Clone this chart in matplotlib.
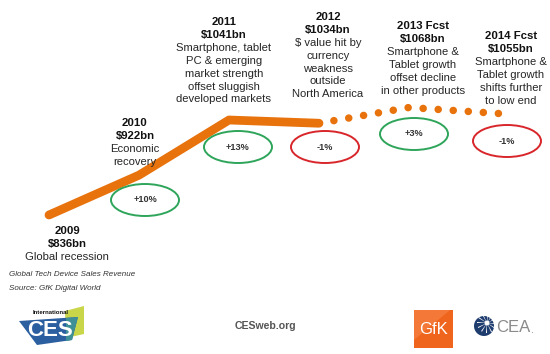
import matplotlib
matplotlib.use('Agg')
import matplotlib.pyplot as plt
from matplotlib.patches import Ellipse, Polygon, Rectangle, Circle, Wedge

# ---------------- data ----------------
years = [2009, 2010, 2011, 2012, 2013, 2014]
revenue = [836, 922, 1041, 1034, 1068, 1055]
n_actual = 4  # 2009-2012 actual (solid), rest forecast (dotted)
year_labels = ['2009', '2010', '2011', '2012', '2013 Fcst', '2014 Fcst']
value_labels = ['$836bn', '$922bn', '$1041bn', '$1034bn', '$1068bn', '$1055bn']
notes = [
    ['Global recession'],
    ['Economic', 'recovery'],
    ['Smartphone, tablet', 'PC & emerging', 'market strength', 'offset sluggish', 'developed markets'],
    ['$ value hit by', 'currency', 'weakness', 'outside', 'North America'],
    ['Smartphone &', 'Tablet growth', 'offset decline', 'in other products'],
    ['Smartphone &', 'Tablet growth', 'shifts further', 'to low end'],
]
growth_labels = ['+10%', '+13%', '-1%', '+3%', '-1%']
footnotes = ['Global Tech Device Sales Revenue', 'Source: GfK Digital World']

# ---------------- layout ----------------
W, H = 550, 354
fig = plt.figure(figsize=(W / 100, H / 100), dpi=100)
fig.patch.set_facecolor('white')

ORANGE = '#E8720C'
GREEN = '#2EA55A'
RED = '#D8262B'

# data axes mapped so 2009 -> x=49px, step 90px; 836 -> y=215px, 1041 -> y=120px
px0, step = 49, 90
k = (215 - 120) / (1041 - 836)
ax = fig.add_axes([0, 0, 1, 1])
ax.set_xlim(2009 - px0 / step, 2009 + (W - px0) / step)
ax.set_ylim(836 - (H - 215) / k, 836 + 215 / k)
ax.axis('off')

ax.plot(years[:n_actual], revenue[:n_actual], color=ORANGE, lw=6.3,
        solid_capstyle='round', solid_joinstyle='round', zorder=3)
ax.plot(years[n_actual - 1:], revenue[n_actual - 1:], color=ORANGE, lw=5.4,
        linestyle=(0, (0.01, 2.0)), dash_capstyle='round', zorder=3)

# overlay axes in pixel coordinates for annotations
ov = fig.add_axes([0, 0, 1, 1], zorder=2)
ov.set_xlim(0, W)
ov.set_ylim(H, 0)
ov.axis('off')
ov.patch.set_alpha(0)

FONT = 'Liberation Sans'
LS = 12.9  # line spacing px

# label blocks: (center x, y of first line)
blocks = [(67, 231), (135, 123), (224, 22), (328, 17), (423, 26), (511, 36)]
for (cx, y0), yl, vl, nl in zip(blocks, year_labels, value_labels, notes):
    ov.text(cx, y0, yl, ha='center', va='center', fontsize=8.2, fontweight='bold',
            family=FONT, color='#111111')
    ov.text(cx, y0 + LS, vl, ha='center', va='center', fontsize=8.2, fontweight='bold',
            family=FONT, color='#111111')
    for i, line in enumerate(nl):
        ov.text(cx, y0 + LS * (i + 2), line, ha='center', va='center', fontsize=8.1,
                family=FONT, color='#262626')

# growth ellipses
ell_pos = [(145, 200), (238, 147), (325, 147), (414, 134), (507, 141)]
for (ex, ey), g in zip(ell_pos, growth_labels):
    col = GREEN if g.startswith('+') else RED
    ov.add_patch(Ellipse((ex, ey), 68, 32, fill=False, edgecolor=col, lw=1.4))
    ov.text(ex, ey, g, ha='center', va='center', fontsize=6.6, fontweight='bold',
            family=FONT, color='#333333')

# footnotes
for i, t in enumerate(footnotes):
    ov.text(9, 275 + 14 * i, t, ha='left', va='center', fontsize=5.8, style='italic',
            family=FONT, color='#333333')

# ---- logos (approximations) ----
# CES logo
ov.add_patch(Polygon([(65, 311), (84, 306), (84, 334), (66, 338)], closed=True,
                     facecolor='#C9D64A', edgecolor='none'))
ov.add_patch(Polygon([(19, 321), (78, 317), (72, 340), (37, 345)], closed=True,
                     facecolor='#2C5FA0', edgecolor='none'))
ov.add_patch(Polygon([(66, 318), (78, 317), (72, 340), (66, 341)], closed=True,
                     facecolor='#3E8F96', edgecolor='none'))
ov.text(51, 313, 'International', ha='center', va='center', fontsize=4.3,
        fontweight='bold', family=FONT, color='#111111')
ov.text(50, 331, 'CES', ha='center', va='center', fontsize=16, fontweight='bold',
        family=FONT, color='white')

ov.text(265, 326, 'CESweb.org', ha='center', va='center', fontsize=7.6,
        fontweight='bold', family=FONT, color='#555555')

# GfK logo
ov.add_patch(Rectangle((414, 310), 39, 38, facecolor='#F0651E', edgecolor='none'))
ov.add_patch(Polygon([(414, 310), (450, 310), (414, 340)], closed=True,
                     facecolor='#F7874A', edgecolor='none', alpha=0.6))
ov.text(433.5, 330, 'GfK', ha='center', va='center', fontsize=12,
        family=FONT, color='white')

# CEA logo
ov.add_patch(Circle((484, 326), 10, facecolor='#1E3C6E', edgecolor='none'))
for a in range(0, 360, 30):
    ov.add_patch(Wedge((487, 323), 10, a, a + 6, facecolor='white', edgecolor='none'))
ov.add_patch(Circle((487, 323), 2.5, facecolor='white', edgecolor='none'))
ov.text(496, 327, 'CEA', ha='left', va='center', fontsize=12,
        family=FONT, color='#8a8a8a')
ov.text(531, 330, '.', ha='left', va='center', fontsize=8,
        family=FONT, color='#8a8a8a')

fig.savefig('out.png', dpi=100, facecolor='white')
